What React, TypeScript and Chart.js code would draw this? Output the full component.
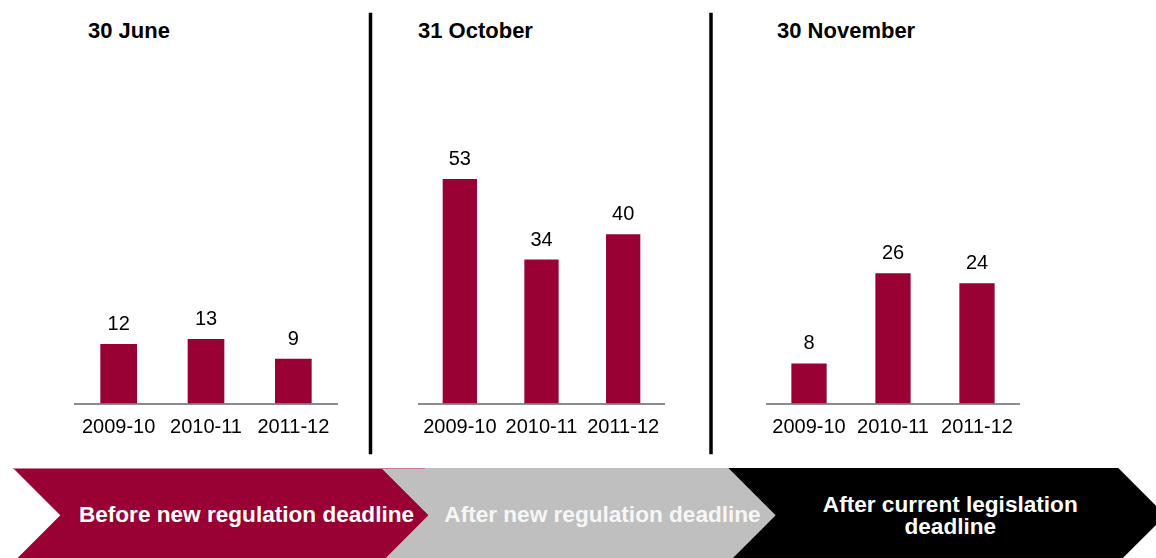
import React, { useEffect, useRef } from 'react';
import { Chart, registerables } from 'chart.js';

Chart.register(...registerables);

// ---- data ----
const periods = ['2009-10', '2010-11', '2011-12'];
const juneValues = [12, 13, 9];
const octoberValues = [53, 34, 40];
const novemberValues = [8, 26, 24];
const panelTitles = ['30 June', '31 October', '30 November'];
const axisMax = [70, 82, 69.3];
const phaseLabels = [
  ['Before new regulation deadline'],
  ['After new regulation deadline'],
  ['After current legislation', 'deadline'],
];

// ---- styling / layout ----
const FONT = "'Liberation Sans', Arial, Helvetica, sans-serif";
const BAR_COLOR = '#990033';
const AXIS_COLOR = '#8c8c8c';
const CANVAS_H = 460;
const BASELINE_Y = 403.5;
const PLOT_TOP = 56.3;
const SIDE_PAD = 40;

const panelLayout = [
  { left: 75, right: 337, titleX: 88 },
  { left: 419, right: 664, titleX: 418 },
  { left: 767, right: 1019, titleX: 777 },
];

const panelValues = [juneValues, octoberValues, novemberValues];

const valueLabelPlugin = {
  id: 'valueLabels',
  afterDatasetsDraw(chart: any) {
    const { ctx } = chart;
    const meta = chart.getDatasetMeta(0);
    const data = chart.data.datasets[0].data as number[];
    ctx.save();
    ctx.font = `20px ${FONT}`;
    ctx.fillStyle = '#000';
    ctx.textAlign = 'center';
    ctx.textBaseline = 'alphabetic';
    meta.data.forEach((bar: any, i: number) => {
      ctx.fillText(String(data[i]), bar.x, bar.y - 14);
    });
    ctx.restore();
  },
};

function PanelChart({ values, max, left, right }: { values: number[]; max: number; left: number; right: number }) {
  const ref = useRef<HTMLCanvasElement | null>(null);
  const width = right - left + SIDE_PAD * 2;
  useEffect(() => {
    if (!ref.current) return;
    const chart = new Chart(ref.current, {
      type: 'bar',
      data: {
        labels: periods,
        datasets: [
          {
            data: values,
            backgroundColor: BAR_COLOR,
            borderWidth: 0,
            barPercentage: 0.42,
            categoryPercentage: 1,
          },
        ],
      },
      options: {
        animation: false,
        responsive: false,
        maintainAspectRatio: false,
        events: [],
        layout: { padding: { top: PLOT_TOP, left: SIDE_PAD, right: SIDE_PAD, bottom: 0 } },
        plugins: {
          legend: { display: false },
          tooltip: { enabled: false },
          title: { display: false },
        },
        scales: {
          x: {
            offset: true,
            grid: { display: false, drawTicks: false },
            border: { display: true, color: AXIS_COLOR, width: 2 },
            ticks: {
              color: '#000',
              font: { family: FONT, size: 20 },
              padding: 12,
              maxRotation: 0,
              autoSkip: false,
            },
            afterFit(scale: any) {
              scale.height = CANVAS_H - BASELINE_Y;
            },
          },
          y: {
            display: false,
            min: 0,
            max: max,
          },
        },
      },
      plugins: [valueLabelPlugin],
    } as any);
    return () => chart.destroy();
  }, [values, max, left, right]);
  return (
    <canvas
      ref={ref}
      width={width}
      height={CANVAS_H}
      style={{ position: 'absolute', left: left - SIDE_PAD, top: 0, width, height: CANVAS_H }}
    />
  );
}

const CH_TOP = 468;
const CH_MID = 515.3;
const CH_BOT = 562.6;
const CH_DEPTH = CH_MID - CH_TOP;
const chevronStops = [13, 381.5, 728.3, 1118.3];
const chevronFills = ['#990033', '#bfbfbf', '#000000'];
const chevronTextColors = ['#ffffff', '#f6f6f6', '#ffffff'];
const chevronTextX = [246.5, 602.5, 950.3];

function Overlay() {
  return (
    <svg width={1156} height={558} style={{ position: 'absolute', left: 0, top: 0 }}>
      <line x1={370.5} y1={12.7} x2={370.5} y2={454.3} stroke="#000" strokeWidth={3.5} />
      <line x1={711} y1={12.7} x2={711} y2={454.3} stroke="#000" strokeWidth={3.5} />
      {panelTitles.map((t, i) => (
        <text
          key={t}
          x={panelLayout[i].titleX}
          y={38.3}
          fontFamily={FONT}
          fontWeight="bold"
          fontSize={22}
          fill="#000"
        >
          {t}
        </text>
      ))}
      {chevronFills.map((fill, i) => {
        const a = chevronStops[i];
        const b = chevronStops[i + 1];
        const pts = [
          [a, CH_TOP],
          [b, CH_TOP],
          [b + CH_DEPTH, CH_MID],
          [b, CH_BOT],
          [a, CH_BOT],
          [a + CH_DEPTH, CH_MID],
        ]
          .map((p) => p.join(','))
          .join(' ');
        return <polygon key={fill} points={pts} fill={fill} />;
      })}
      <line x1={13} y1={468.5} x2={425} y2={468.5} stroke="#c97a90" strokeWidth={1} />
      {phaseLabels.map((lines, i) => {
        const baselines = lines.length === 1 ? [522] : [512, 533.7];
        return lines.map((ln, j) => (
          <text
            key={`${i}-${j}`}
            x={chevronTextX[i]}
            y={baselines[j]}
            textAnchor="middle"
            fontFamily={FONT}
            fontWeight="bold"
            fontSize={22.6}
            fill={chevronTextColors[i]}
          >
            {ln}
          </text>
        ));
      })}
    </svg>
  );
}

export default function App() {
  return (
    <div
      style={{
        position: 'fixed',
        left: 0,
        top: 0,
        width: 1156,
        height: 558,
        background: '#ffffff',
        overflow: 'hidden',
      }}
    >
      <Overlay />
      {panelLayout.map((p, i) => (
        <PanelChart key={i} values={panelValues[i]} max={axisMax[i]} left={p.left} right={p.right} />
      ))}
    </div>
  );
}
